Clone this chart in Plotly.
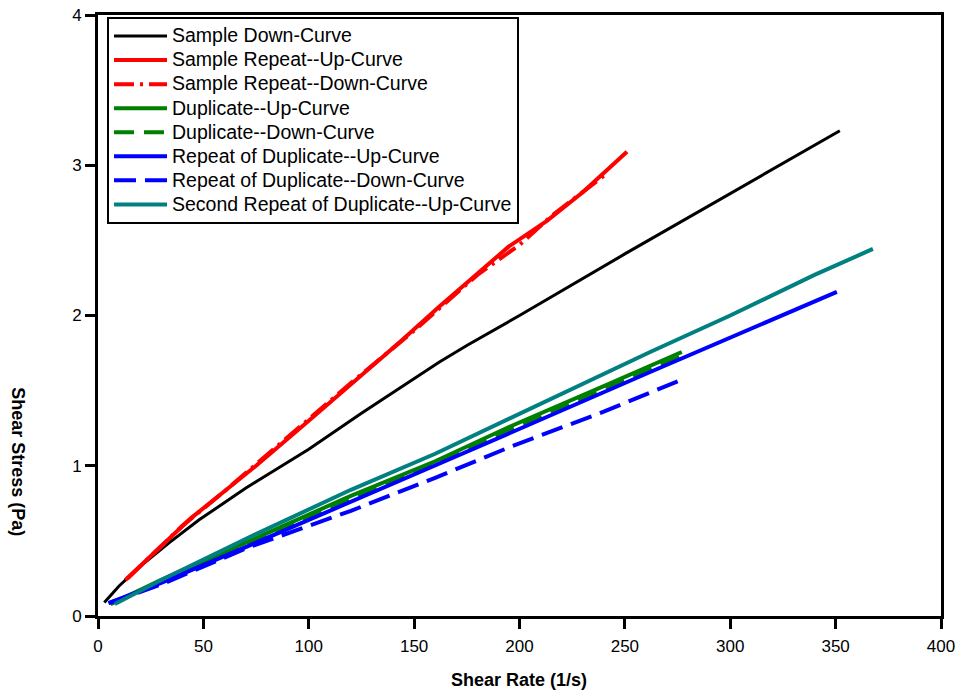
import plotly.graph_objects as go

# ---- data ----
black_x = [3, 10, 20, 34, 48, 70, 85, 100, 125, 150, 162, 175, 200, 250, 300, 352]
black_y = [0.09, 0.2, 0.33, 0.49, 0.64, 0.85, 0.98, 1.11, 1.35, 1.58, 1.69, 1.80, 2.0, 2.41, 2.81, 3.23]

red_up_x = [13, 25, 44, 60, 75, 100, 125, 143, 162, 180, 195, 213, 230, 251]
red_up_y = [0.24, 0.40, 0.65, 0.83, 1.0, 1.30, 1.60, 1.82, 2.06, 2.28, 2.46, 2.63, 2.82, 3.09]

red_dn_x = [14, 30, 40, 60, 90, 120, 150, 180, 200, 215, 240]
red_dn_y = [0.25, 0.47, 0.60, 0.83, 1.19, 1.55, 1.90, 2.27, 2.47, 2.66, 2.93]

green_up_x = [6, 30, 72, 120, 160, 195, 240, 277]
green_up_y = [0.08, 0.24, 0.50, 0.80, 1.03, 1.258, 1.53, 1.757]

green_dn_x = [6, 40, 80, 120, 160, 200, 240, 277]
green_dn_y = [0.08, 0.29, 0.53, 0.78, 1.02, 1.27, 1.51, 1.73]

blue_up_x = [5, 30, 72, 120, 160, 195.5, 262, 300, 350.6]
blue_up_y = [0.085, 0.22, 0.47, 0.76, 1.0, 1.218, 1.624, 1.85, 2.157]

blue_dn_x = [5, 30, 72, 120, 160, 195.5, 240, 262, 277.6]
blue_dn_y = [0.085, 0.21, 0.46, 0.70, 0.92, 1.125, 1.36, 1.484, 1.577]

teal_x = [8, 30, 72, 120, 160, 195.5, 262, 300, 340, 367.7]
teal_y = [0.08, 0.24, 0.526, 0.84, 1.08, 1.318, 1.757, 2.0, 2.27, 2.443]

x_ticks = [0, 50, 100, 150, 200, 250, 300, 350, 400]
y_ticks = [0, 1, 2, 3, 4]

series = [
    ("Sample Down-Curve", black_x, black_y, "#000000", "solid", 3),
    ("Sample Repeat--Up-Curve", red_up_x, red_up_y, "#ff0000", "solid", 4),
    ("Sample Repeat--Down-Curve", red_dn_x, red_dn_y, "#ff0000", "20px,6px,3px,6px", 4),
    ("Duplicate--Up-Curve", green_up_x, green_up_y, "#008000", "solid", 4),
    ("Duplicate--Down-Curve", green_dn_x, green_dn_y, "#008000", "20px,10px", 4),
    ("Repeat of Duplicate--Up-Curve", blue_up_x, blue_up_y, "#0000ff", "solid", 4),
    ("Repeat of Duplicate--Down-Curve", blue_dn_x, blue_dn_y, "#0000ff", "22px,9px", 4),
    ("Second Repeat of Duplicate--Up-Curve", teal_x, teal_y, "#008080", "solid", 4),
]

fig = go.Figure()
for name, xs, ys, col, dash, w in series:
    fig.add_trace(go.Scatter(x=xs, y=ys, mode="lines",
                             name='<span style="font-size:19.5px">' + name + '</span>',
                             line=dict(color=col, dash=dash, width=w)))

narrow = "Liberation Sans Narrow, Arial Narrow, Liberation Sans, Arial"
reg = "Liberation Sans, Arial"

fig.update_layout(
    width=958, height=693,
    margin=dict(l=98, r=17, t=15, b=77),
    paper_bgcolor="white", plot_bgcolor="white",
    showlegend=True,
    legend=dict(x=0.0107, y=0.9967, xanchor="left", yanchor="top",
                bgcolor="white", bordercolor="black", borderwidth=2,
                font=dict(family=reg, size=16.2, color="black"),
                tracegroupgap=0, itemwidth=53),
    xaxis=dict(range=[0, 400], tickvals=x_ticks, showgrid=False, zeroline=False,
               automargin=False,
               showline=True, linecolor="black", linewidth=3, mirror=True,
               ticks="outside", ticklen=10, tickwidth=3, tickcolor="black",
               ticklabelstandoff=3,
               tickfont=dict(family=narrow, size=17, color="black")),
    yaxis=dict(range=[0, 4], tickvals=y_ticks, showgrid=False, zeroline=False,
               automargin=False,
               showline=True, linecolor="black", linewidth=3, mirror=True,
               ticks="outside", ticklen=10, tickwidth=3, tickcolor="black",
               ticklabelstandoff=0,
               tickfont=dict(family=reg, size=17, color="black")),
    annotations=[
        dict(text="<b>Shear Rate (1/s)</b>", xref="paper", yref="paper",
             x=0.4994, y=-0.106, xanchor="center", yanchor="middle",
             showarrow=False, font=dict(family=narrow, size=18, color="black")),
        dict(text="<b>Shear Stress (Pa)</b>", xref="paper", yref="paper",
             x=-0.095, y=0.256, xanchor="center", yanchor="middle", textangle=90,
             showarrow=False, font=dict(family=narrow, size=18, color="black")),
    ],
)

fig.write_html("out.html")
